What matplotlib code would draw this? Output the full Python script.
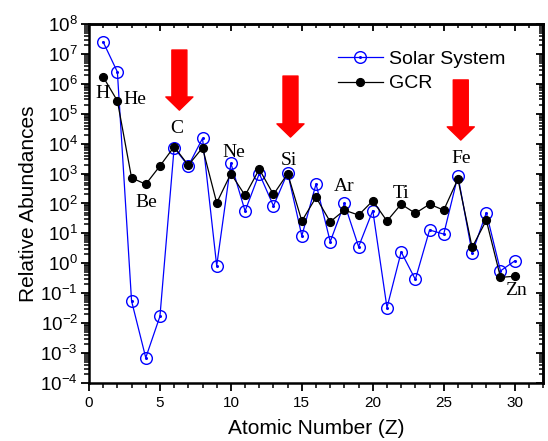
"""Solar system vs galactic cosmic ray elemental abundances."""

import matplotlib
import matplotlib.pyplot as plt
from matplotlib.legend_handler import HandlerTuple
from matplotlib.ticker import MultipleLocator, LogLocator, NullFormatter

matplotlib.use("Agg")

plt.rcParams["font.family"] = ["Liberation Sans", "DejaVu Sans"]

z = list(range(1, 31))
solar = [2.5e7, 2.5e6, 0.055, 7e-4, 0.017, 7.3e3, 1.8e3, 1.5e4, 0.83, 2.2e3,
         56, 1.0e3, 83, 1.07e3, 8.3, 450, 5.3, 100, 3.6, 58,
         0.033, 2.4, 0.29, 13, 9.5, 850, 2.2, 49, 0.56, 1.2]
gcr = [1.7e6, 2.7e5, 720, 440, 1.8e3, 7.9e3, 1.9e3, 7.3e3, 105, 1.0e3,
       186, 1.4e3, 200, 1.0e3, 26, 160, 24.5, 60, 41, 123,
       26, 95, 47, 95, 60, 660, 3.4, 27.5, 0.34, 0.37]

element_names = ["H", "He", "C", "Ne", "Si", "Be", "Ar", "Ti", "Fe", "Zn"]
element_x = [0.92, 3.24, 6.18, 10.21, 14.1, 4.06, 17.98, 22.02, 26.2, 30.07]
element_y = [10**5.69, 10**5.49, 10**4.52, 10**3.69, 10**3.45,
             10**2.02, 10**2.58, 10**2.34, 10**3.5, 10**-0.9]

arrow_x = [6.37, 14.2, 26.2]
arrow_top = [10**7.13, 10**6.26, 10**6.13]
arrow_tip = [10**5.12, 10**4.22, 10**4.12]

fig = plt.figure(figsize=(5.48, 4.41), dpi=100)
ax = fig.add_axes([0.1624, 0.1315, 0.8286, 0.8141])

blue_line, = ax.plot(z, solar, color="#0000ff", linewidth=0.9, marker="o",
                     markersize=8.4, markerfacecolor="none",
                     markeredgecolor="#0000ff", markeredgewidth=1.0, zorder=3)
blue_dot, = ax.plot(z, solar, linestyle="none", marker="o", markersize=1.2,
                    color="#0000ff", zorder=3)
black_line, = ax.plot(z, gcr, color="black", linewidth=0.9, marker="o",
                      markersize=5.6, zorder=4)

for name, x, y in zip(element_names, element_x, element_y):
    ax.text(x, y, name, family=["Liberation Serif", "DejaVu Serif"], fontsize=14,
            ha="center", va="center", zorder=5)

for x, top, tip in zip(arrow_x, arrow_top, arrow_tip):
    ax.annotate("", xy=(x, tip), xytext=(x, top),
                arrowprops=dict(arrowstyle="simple,head_width=1.95,head_length=0.95,tail_width=1.08",
                                color="#ff0000", shrinkA=0, shrinkB=0), zorder=6)

ax.set_yscale("log")
ax.set_xlim(0, 32)
ax.set_ylim(1e-4, 1e8)
ax.xaxis.set_major_locator(MultipleLocator(5))
ax.xaxis.set_minor_locator(MultipleLocator(1))
ax.yaxis.set_major_locator(LogLocator(base=10, numticks=20))
ax.yaxis.set_minor_locator(LogLocator(base=10, subs=range(2, 10), numticks=20))
ax.yaxis.set_minor_formatter(NullFormatter())

for sp in ax.spines.values():
    sp.set_linewidth(1.8)
ax.tick_params(which="major", direction="out", length=6, width=1.3)
ax.tick_params(which="minor", direction="out", length=3.5, width=1.1)
ax.tick_params(axis="x", labelsize=11)
ax.tick_params(axis="y", labelsize=13.5, pad=2)

top = ax.secondary_xaxis("top")
top.xaxis.set_major_locator(MultipleLocator(5))
top.xaxis.set_minor_locator(MultipleLocator(1))
top.tick_params(which="major", direction="in", length=5, width=1.3, labeltop=False)
top.tick_params(which="minor", direction="in", length=3, width=1.1)
top.spines["top"].set_linewidth(1.8)

right = ax.secondary_yaxis("right")
right.yaxis.set_major_locator(LogLocator(base=10, numticks=20))
right.yaxis.set_minor_locator(LogLocator(base=10, subs=range(2, 10), numticks=20))
right.tick_params(which="major", direction="in", length=5, width=1.3, labelright=False)
right.tick_params(which="minor", direction="in", length=3, width=1.1, labelright=False)
right.spines["right"].set_linewidth(1.8)

ax.set_xlabel("Atomic Number (Z)", fontsize=15, labelpad=6)
ax.set_ylabel("Relative Abundances", fontsize=15, labelpad=2)

ax.legend([(blue_line, blue_dot), black_line], ["Solar System", "GCR"],
          handler_map={tuple: HandlerTuple(ndivide=1)},
          loc="upper left", bbox_to_anchor=(0.51, 0.975), frameon=False,
          fontsize=14, handlelength=2.3, handletextpad=0.3, labelspacing=0.35)

fig.savefig("out.png", dpi=100)
